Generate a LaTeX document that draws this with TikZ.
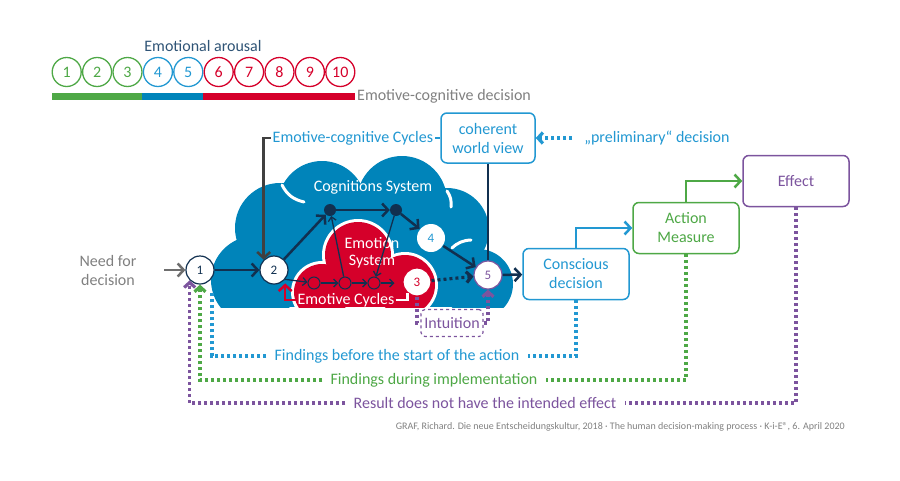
\documentclass[tikz,border=0pt]{standalone}
\usepackage{fontspec}
\setmainfont{Carlito}
\usetikzlibrary{positioning,arrows.meta}

\definecolor{navy}{RGB}{17,48,80}
\definecolor{cloudblue}{RGB}{0,132,186}
\definecolor{textblue}{RGB}{34,152,210}
\definecolor{emored}{RGB}{213,0,42}
\definecolor{actgreen}{RGB}{78,168,70}
\definecolor{effpurple}{RGB}{124,84,158}
\definecolor{slate}{RGB}{47,84,118}
\definecolor{labelgray}{RGB}{128,128,128}
\definecolor{arrowgray}{RGB}{110,110,110}
\definecolor{darkgray2}{RGB}{64,64,64}

\tikzset{
  numnode/.style={circle, draw=navy, fill=white, line width=1.2pt, minimum size=28pt, inner sep=0pt, text=navy, font=\fontsize{13}{13}\selectfont},
  dotnode/.style={circle, fill=navy, minimum size=12pt, inner sep=0pt},
  cyclenode/.style={circle, draw=navy, fill=emored, line width=1pt, minimum size=12pt, inner sep=0pt},
  scalenode/.style={circle, draw, line width=1.3pt, minimum size=29pt, inner sep=0pt, font=\fontsize{16}{16}\selectfont},
  boxnode/.style={draw, fill=white, rounded corners=6pt, line width=1.5pt, align=center, minimum width=106pt, minimum height=51pt},
  tagnode/.style={fill=white, rounded corners=4pt, inner xsep=8pt, inner ysep=2pt},
  flow/.style={navy, line width=2.5pt, -{Straight Barb[length=6pt,width=13pt]}},
  thinflow/.style={navy, line width=1.3pt, -{Straight Barb[length=4pt,width=8pt]}},
  dotline/.style={line width=3.2pt, dash pattern=on 3pt off 3pt},
  dottip/.style={-{Straight Barb[length=5pt,width=11pt]}},
}

\begin{document}
\begin{tikzpicture}[x=1pt, y=-1pt, font=\fontsize{16}{19}\selectfont, node distance=16pt]
\useasboundingbox (0,0) rectangle (900,480);

\foreach \i/\col in {1/actgreen,2/actgreen,3/actgreen,4/textblue,5/textblue,6/emored,7/emored,8/emored,9/emored,10/emored}
  \node[scalenode, draw=\col, text=\col] (s\i) at ({66.7+30.4*(\i-1)},72) {\i};
\node[text=slate] (arousal) at (203,46) {Emotional arousal};
\draw[actgreen, line width=7pt] (52,96) -- (142,96);
\draw[cloudblue, line width=7pt] (142,96) -- (203,96);
\draw[emored, line width=7pt] (203,96) -- (355,96);
\node[anchor=west, text=labelgray, inner sep=1pt] (ecdec) at (356,96) {Emotive-cognitive decision};

\begin{scope}
\clip (150,100) rectangle (560,307);
\foreach \cx/\cy/\rr in {255/280/44, 280/228/45, 322/205/44, 402/201/45, 447/230/42, 478/284/35}
  \fill[cloudblue] (\cx,\cy) circle[radius=\rr];
\fill[cloudblue] (250,205) rectangle (470,307);
\draw[white, line width=3pt, line cap=round] (282,185) to[bend right=25] (304,202);
\draw[white, line width=3pt, line cap=round] (447,191) to[bend left=20] (451,207);
\draw[white, line width=3pt, line cap=round] (452,248) to[bend left=20] (471,240);
\foreach \cx/\cy/\rr in {358/255/33, 322/292/28, 405/285/30}
  \fill[white] (\cx,\cy) circle[radius=\rr+3];
\fill[white] (319,272) rectangle (408,307);
\foreach \cx/\cy/\rr in {358/255/33, 322/292/28, 405/285/30}
  \fill[emored] (\cx,\cy) circle[radius=\rr];
\fill[emored] (322,275) rectangle (405,307);
\end{scope}

\node[text=white] (cogsys) at (373,187) {Cognitions System};
\node[text=white, align=center, font=\fontsize{16}{17}\selectfont] (emosys) at (372,253) {Emotion\\System};
\node[text=white, inner sep=1pt] (emocyc) at (346,300) {Emotive Cycles};

\node[numnode] (n1) at (200,270) {1};
\node[numnode] (n2) at (274,270) {2};
\node[dotnode] (c1) at (330,210) {};
\node[dotnode] (c2) at (396,210) {};
\node[numnode, draw=none, text=textblue] (n4) at (431,238) {4};
\node[numnode, draw=emored, text=emored] (n3) at (417,282) {3};
\node[numnode, draw=effpurple, text=effpurple] (n5) at (488,275) {5};
\node[cyclenode] (e1) at (314,283) {};
\node[cyclenode, right=18pt of e1] (e2) {};
\node[cyclenode, right=16pt of e2] (e3) {};
\coordinate[right=14pt of e3] (eend);

\node[tagnode, text=labelgray, align=center, minimum width=112pt, minimum height=50pt] (need) at (108,270) {Need for\\decision};
\node[boxnode, draw=textblue, text=textblue, minimum width=94pt, minimum height=50pt] (cwv) at (488,138) {coherent\\world view};
\node[tagnode, text=textblue, inner xsep=2pt, left=5pt of cwv] (ecc) {Emotive-cognitive Cycles};
\node[tagnode, text=textblue, inner xsep=12pt] (prelim) at (657,138) {„preliminary“ decision};
\node[boxnode, draw=textblue, text=textblue] (cons) at (576,274) {Conscious\\decision};
\node[boxnode, draw=actgreen, text=actgreen] (am) at (686,228) {Action\\Measure};
\node[boxnode, draw=effpurple, text=effpurple] (eff) at (796,181) {Effect};
\node[draw=effpurple, dashed, line width=1.2pt, rounded corners=4pt, text=effpurple, minimum width=62pt, minimum height=27pt, inner sep=1pt] (intu) at (452,323) {Intuition};

\node[tagnode, text=textblue] (fbefore) at (397,356) {Findings before the start of the action};
\node[tagnode, text=actgreen] (fduring) at (434,380) {Findings during implementation};
\node[tagnode, text=effpurple] (fresult) at (485,403) {Result does not have the intended effect};
\coordinate (b1) at (212,292);
\node[anchor=east, text=labelgray, inner sep=1pt, font=\fontsize{10}{12}\selectfont] (cite) at (846,427) {GRAF, Richard. Die neue Entscheidungskultur, 2018 · The human decision-making process · K-i-E®, 6. April 2020};

\draw[flow, arrowgray] (need) -- (n1);
\draw[flow] (n1) -- (n2);
\draw[flow] (n2) -- (c1);
\draw[flow] (c1) -- (c2);
\draw[flow] (c2) -- (n4);
\draw[flow] (n4) -- (n5);
\draw[flow] (n5) -- (cons);
\draw[navy, line width=2.5pt] (cwv) -- (n5);
\draw[flow, darkgray2] (ecc.west) -| (n2.north west);
\draw[textblue, line width=1.5pt] (ecc) -- (cwv);
\draw[thinflow] (n2.-40) -- (e1);
\draw[thinflow] (e1) -- (e2);
\draw[thinflow] (e2) -- (e3);
\draw[thinflow] (e3) -- (eend);
\draw[thinflow] (e2) -- (c1);
\draw[thinflow] (c2) -- (e3);
\draw[flow, emored] (emocyc.west) -| ([yshift=-4pt]n2.-40);
\draw[white, line width=2.5pt] (emocyc.east) -| (n3.-130);
\draw[dotline, dottip, navy] (n3) -- (n5);
\draw[dotline, dottip, textblue] (prelim) -- (cwv);
\draw[flow, textblue] (cons.north) |- (am.west);
\draw[flow, actgreen] (am.north) |- (eff.west);
\draw[dotline, effpurple] (n3.south) |- (intu.west);
\draw[dotline, dottip, effpurple] (intu.east) -| (n5.south);
\draw[dotline, textblue] (cons.south) |- (fbefore.east);
\draw[dotline, textblue] (fbefore.west) -| (b1);
\draw[dotline, actgreen] (am.south) |- (fduring.east);
\draw[dotline, dottip, actgreen] (fduring.west) -| (n1.south);
\draw[dotline, effpurple] (eff.south) |- (fresult.east);
\draw[dotline, dottip, effpurple] (fresult.west) -| (n1.-135);
\end{tikzpicture}
\end{document}
